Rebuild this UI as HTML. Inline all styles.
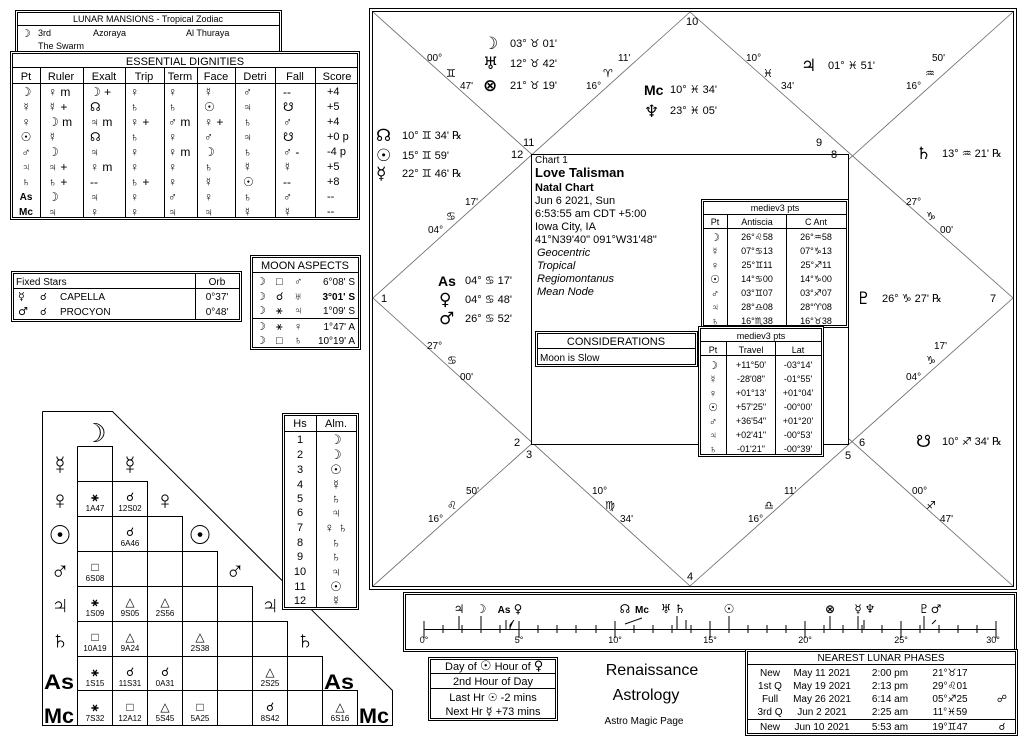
<!DOCTYPE html>
<html><head><meta charset="utf-8"><style>
html,body{margin:0;padding:0;background:#fff;width:1023px;height:748px;overflow:hidden}
svg{display:block;font-size:10px}
text{font-family:"Liberation Sans","DejaVu Sans",sans-serif;fill:#000}
.g{font-family:"DejaVu Sans",sans-serif}
.b{font-weight:bold}
.m{text-anchor:middle}
.i{font-style:italic}
</style></head><body>
<svg width="1023" height="748" viewBox="0 0 1023 748" xmlns="http://www.w3.org/2000/svg">
<g fill="none" stroke="#000" stroke-width="1">
<rect x="369.5" y="8.5" width="647" height="581"/>
<rect x="372.5" y="11.5" width="641" height="575"/>
<g stroke="#666" stroke-width="0.8">
<line x1="373" y1="12" x2="1013" y2="586"/>
<line x1="1013" y1="12" x2="373" y2="586"/>
<polyline points="690,12 1013,298 690,586 373,298 690,12"/>
</g>
<rect x="531.5" y="154.5" width="317" height="290" fill="#fff"/>
<rect x="701.5" y="199.5" width="147" height="128" fill="#fff"/>
<rect x="703.5" y="201.5" width="143" height="124"/>
<line x1="703" y1="214.5" x2="847" y2="214.5"/><line x1="703" y1="228.5" x2="847" y2="228.5"/>
<line x1="727.5" y1="214" x2="727.5" y2="326"/><line x1="786.5" y1="214" x2="786.5" y2="326"/>
<rect x="698.5" y="326.5" width="125" height="130" fill="#fff"/>
<rect x="700.5" y="328.5" width="121" height="126"/>
<line x1="700" y1="341.5" x2="822" y2="341.5"/><line x1="700" y1="355.5" x2="822" y2="355.5"/>
<line x1="726.5" y1="342" x2="726.5" y2="455"/><line x1="775.5" y1="342" x2="775.5" y2="455"/>
<rect x="535.5" y="331.5" width="162" height="35"/>
<rect x="537.5" y="333.5" width="158" height="31"/>
<line x1="537" y1="348.5" x2="696" y2="348.5"/>
<rect x="15.5" y="10.5" width="266" height="44"/>
<rect x="17.5" y="12.5" width="262" height="40"/>
<line x1="17" y1="25.5" x2="280" y2="25.5"/>
<rect x="10.5" y="51.5" width="349" height="168" fill="#fff"/>
<rect x="12.5" y="53.5" width="345" height="164"/>
<line x1="12" y1="67.5" x2="358" y2="67.5"/><line x1="12" y1="83.5" x2="358" y2="83.5"/>
<line x1="40.5" y1="67" x2="40.5" y2="218"/><line x1="83.5" y1="67" x2="83.5" y2="218"/>
<line x1="125.5" y1="67" x2="125.5" y2="218"/><line x1="164.5" y1="67" x2="164.5" y2="218"/>
<line x1="197.5" y1="67" x2="197.5" y2="218"/><line x1="235.5" y1="67" x2="235.5" y2="218"/>
<line x1="275.5" y1="67" x2="275.5" y2="218"/><line x1="315.5" y1="67" x2="315.5" y2="218"/>
<rect x="11.5" y="271.5" width="230" height="50"/>
<rect x="13.5" y="273.5" width="226" height="46"/>
<line x1="13" y1="288.5" x2="240" y2="288.5"/><line x1="195.5" y1="274" x2="195.5" y2="320"/>
<rect x="250.5" y="255.5" width="110" height="94"/>
<rect x="252.5" y="257.5" width="106" height="90"/>
<line x1="252" y1="272.5" x2="359" y2="272.5"/><line x1="252" y1="318.5" x2="359" y2="318.5"/>
<polyline points="42.5,411.5 112.5,411.5 392.5,690.5 392.5,725.5 42.5,725.5 42.5,411.5"/>
<path d="M77.5 446.5H112.5V725.5 M77.5 446.5V725.5 M77.5 481.5H147.5V725.5 M77.5 516.5H182.5V725.5 M77.5 551.5H217.5V725.5 M77.5 586.5H252.5V725.5 M77.5 621.5H287.5V725.5 M77.5 656.5H322.5V725.5 M77.5 690.5H357.5V725.5"/>
<rect x="282.5" y="413.5" width="76" height="196" fill="#fff"/>
<rect x="284.5" y="415.5" width="72" height="192"/>
<line x1="284" y1="431.5" x2="357" y2="431.5"/><line x1="316.5" y1="416" x2="316.5" y2="607"/>
<rect x="403.5" y="592.5" width="613" height="59"/>
<rect x="405.5" y="594.5" width="609" height="55"/>
<line x1="424" y1="629.5" x2="996" y2="629.5"/>
<rect x="428.5" y="657.5" width="129" height="63"/>
<rect x="430.5" y="659.5" width="125" height="59"/>
<line x1="430" y1="673.5" x2="556" y2="673.5"/><line x1="430" y1="688.5" x2="556" y2="688.5"/>
<rect x="745.5" y="649.5" width="272" height="86" fill="#fff"/>
<rect x="747.5" y="651.5" width="268" height="82"/>
<line x1="747" y1="664.5" x2="1016" y2="664.5"/><line x1="747" y1="719.5" x2="1016" y2="719.5"/>
</g>
<g stroke="#000">
<path d="M424 621V638M996 621V638M519 621V638M615 621V638M710 621V638M805 621V638M901 621V638M443 625V633M462 625V633M481 625V633M500 625V633M538 625V633M557 625V633M576 625V633M596 625V633M634 625V633M653 625V633M672 625V633M691 625V633M729 625V633M748 625V633M767 625V633M786 625V633M824 625V633M843 625V633M862 625V633M882 625V633M920 625V633M939 625V633M958 625V633M977 625V633"/>
<path d="M459 616V629M481 616V629M506 620V629M514 620L510 625V629M625 624L642 618M677 616V629M686 620V629M729 616V629M830 616V629M858 616V629M864 620V629M924 616V629M932 624L936 620"/>
</g>
<g font-size="12">
<text x="459" y="613" class="m g b">♃</text><text x="481" y="613" class="m g b">☽</text><text x="504" y="613" class="m b" font-size="10">As</text><text x="518" y="613" class="m g b">♀</text>
<text x="625" y="613" class="m g b">☊</text><text x="642" y="613" class="m b" font-size="10">Mc</text><text x="666" y="613" class="m g b">♅</text><text x="680" y="613" class="m g b">♄</text><text x="729" y="613" class="m g b">☉</text>
<text x="830" y="613" class="m g b">⊗</text><text x="858" y="613" class="m g b">☿</text><text x="870" y="613" class="m g b">♆</text><text x="924" y="613" class="m g b">♇</text><text x="936" y="613" class="m g b">♂</text>
</g>
<g font-size="9">
<text x="424" y="643" class="m">0°</text><text x="519" y="643" class="m">5°</text><text x="615" y="643" class="m">10°</text><text x="710" y="643" class="m">15°</text><text x="805" y="643" class="m">20°</text><text x="901" y="643" class="m">25°</text><text x="993" y="643" class="m">30°</text>
</g>
<g font-size="11">
<text x="686" y="25">10</text><text x="523" y="146">11</text><text x="511" y="158">12</text><text x="816" y="146">9</text><text x="831" y="158">8</text>
<text x="381" y="302">1</text><text x="990" y="302">7</text><text x="514" y="446">2</text><text x="526" y="458">3</text><text x="845" y="459">5</text><text x="859" y="446">6</text><text x="687" y="580">4</text>
</g>
<g font-size="10">
<text x="427" y="61">00°</text><text x="446" y="77" class="g" font-size="11">♊</text><text x="460" y="89">47'</text>
<text x="618" y="61">11'</text><text x="603" y="77" class="g" font-size="11">♈</text><text x="586" y="89">16°</text>
<text x="746" y="61">10°</text><text x="763" y="77" class="g" font-size="11">♓</text><text x="781" y="89">34'</text>
<text x="932" y="61">50'</text><text x="925" y="77" class="g" font-size="11">♒</text><text x="906" y="89">16°</text>
<text x="465" y="205">17'</text><text x="446" y="220" class="g" font-size="11">♋</text><text x="428" y="233">04°</text>
<text x="906" y="205">27°</text><text x="926" y="220" class="g" font-size="11">♑</text><text x="940" y="233">00'</text>
<text x="427" y="349">27°</text><text x="447" y="364" class="g" font-size="11">♋</text><text x="460" y="380">00'</text>
<text x="934" y="349">17'</text><text x="926" y="364" class="g" font-size="11">♑</text><text x="906" y="380">04°</text>
<text x="466" y="494">50'</text><text x="447" y="509" class="g" font-size="11">♌</text><text x="428" y="522">16°</text>
<text x="592" y="494">10°</text><text x="605" y="509" class="g" font-size="11">♍</text><text x="620" y="522">34'</text>
<text x="784" y="494">11'</text><text x="764" y="509" class="g" font-size="11">♎</text><text x="748" y="522">16°</text>
<text x="912" y="494">00°</text><text x="926" y="509" class="g" font-size="11">♐</text><text x="940" y="522">47'</text>
</g>
<g font-size="11">
<text x="483" y="49" font-size="17" class="g b">☽</text><text x="510" y="47">03° ♉ 01'</text>
<text x="483" y="69" font-size="17" class="g b">♅</text><text x="510" y="67">12° ♉ 42'</text>
<text x="483" y="91" font-size="17" class="g b">⊗</text><text x="510" y="89">21° ♉ 19'</text>
<text x="644" y="95" font-size="14" class="b">Mc</text><text x="670" y="93">10° ♓ 34'</text>
<text x="644" y="117" font-size="17" class="g b">♆</text><text x="670" y="114">23° ♓ 05'</text>
<text x="801" y="71" font-size="17" class="g b">♃</text><text x="828" y="69">01° ♓ 51'</text>
<text x="376" y="141" font-size="17" class="g b">☊</text><text x="402" y="139">10° ♊ 34' ℞</text>
<text x="376" y="161" font-size="17" class="g b">☉</text><text x="402" y="159">15° ♊ 59'</text>
<text x="376" y="179" font-size="17" class="g b">☿</text><text x="402" y="177">22° ♊ 46' ℞</text>
<text x="916" y="159" font-size="17" class="g b">♄</text><text x="942" y="157">13° ♒ 21' ℞</text>
<text x="438" y="286" font-size="14" class="b">As</text><text x="465" y="284">04° ♋ 17'</text>
<text x="439" y="305" font-size="17" class="g b">♀</text><text x="465" y="303">04° ♋ 48'</text>
<text x="439" y="324" font-size="17" class="g b">♂</text><text x="465" y="322">26° ♋ 52'</text>
<text x="856" y="304" font-size="17" class="g b">♇</text><text x="882" y="302">26° ♑ 27' ℞</text>
<text x="916" y="447" font-size="17" class="g b">☋</text><text x="942" y="445">10° ♐ 34' ℞</text>
</g>
<g font-size="11">
<text x="535" y="163" font-size="10">Chart 1</text>
<text x="535" y="177" font-size="13" class="b">Love Talisman</text>
<text x="535" y="191" font-size="11" class="b">Natal Chart</text>
<text x="535" y="204">Jun 6 2021, Sun</text>
<text x="535" y="217">6:53:55 am  CDT +5:00</text>
<text x="535" y="230">Iowa City, IA</text>
<text x="535" y="243">41°N39'40" 091°W31'48"</text>
<text x="537" y="256" class="i">Geocentric</text>
<text x="537" y="269" class="i">Tropical</text>
<text x="537" y="282" class="i">Regiomontanus</text>
<text x="537" y="295" class="i">Mean Node</text>
<text x="616" y="345" class="m" font-size="11">CONSIDERATIONS</text>
<text x="540" y="361" font-size="10">Moon is Slow</text>
</g>
<g font-size="9">
<text x="775" y="211" class="m">mediev3 pts</text>
<text x="715" y="225" class="m">Pt</text><text x="757" y="225" class="m">Antiscia</text><text x="816" y="225" class="m">C Ant</text>
<g class="g b" font-size="11"><text x="715" y="241" class="m">☽</text><text x="715" y="255" class="m">☿</text><text x="715" y="269" class="m">♀</text><text x="715" y="283" class="m">☉</text><text x="715" y="297" class="m">♂</text><text x="715" y="311" class="m">♃</text><text x="715" y="325" class="m">♄</text></g>
<text x="757" y="240" class="m">26°♌58</text><text x="757" y="254" class="m">07°♋13</text><text x="757" y="268" class="m">25°♊11</text><text x="757" y="282" class="m">14°♋00</text><text x="757" y="296" class="m">03°♊07</text><text x="757" y="310" class="m">28°♎08</text><text x="757" y="324" class="m">16°♏38</text>
<text x="816" y="240" class="m">26°♒58</text><text x="816" y="254" class="m">07°♑13</text><text x="816" y="268" class="m">25°♐11</text><text x="816" y="282" class="m">14°♑00</text><text x="816" y="296" class="m">03°♐07</text><text x="816" y="310" class="m">28°♈08</text><text x="816" y="324" class="m">16°♉38</text>
<text x="761" y="339" class="m">mediev3 pts</text>
<text x="713" y="353" class="m">Pt</text><text x="751" y="353" class="m">Travel</text><text x="798" y="353" class="m">Lat</text>
<g class="g b" font-size="11"><text x="713" y="369" class="m">☽</text><text x="713" y="383" class="m">☿</text><text x="713" y="397" class="m">♀</text><text x="713" y="411" class="m">☉</text><text x="713" y="425" class="m">♂</text><text x="713" y="439" class="m">♃</text><text x="713" y="453" class="m">♄</text></g>
<text x="751" y="368" class="m">+11°50'</text><text x="751" y="382" class="m">-28'08"</text><text x="751" y="396" class="m">+01°13'</text><text x="751" y="410" class="m">+57'25"</text><text x="751" y="424" class="m">+36'54"</text><text x="751" y="438" class="m">+02'41"</text><text x="751" y="452" class="m">-01'21"</text>
<text x="798" y="368" class="m">-03°14'</text><text x="798" y="382" class="m">-01°55'</text><text x="798" y="396" class="m">+01°04'</text><text x="798" y="410" class="m">-00°00'</text><text x="798" y="424" class="m">+01°20'</text><text x="798" y="438" class="m">-00°53'</text><text x="798" y="452" class="m">-00°39'</text>
</g>
<g font-size="9">
<text x="148" y="22" class="m">LUNAR MANSIONS - Tropical Zodiac</text>
<text x="21" y="37" class="g b" font-size="11">☽</text><text x="38" y="36">3rd</text><text x="93" y="36">Azoraya</text><text x="186" y="36">Al Thuraya</text>
<text x="38" y="49">The Swarm</text>
</g>
<g font-size="11">
<text x="185" y="65" class="m" font-size="11">ESSENTIAL DIGNITIES</text>
<text x="26" y="80" class="m">Pt</text><text x="61" y="80" class="m">Ruler</text><text x="104" y="80" class="m">Exalt</text><text x="144" y="80" class="m">Trip</text><text x="180" y="80" class="m">Term</text><text x="216" y="80" class="m">Face</text><text x="255" y="80" class="m">Detri</text><text x="295" y="80" class="m">Fall</text><text x="337" y="80" class="m">Score</text>
</g>
<g font-size="12" class="g">
<g class="b"><text x="26" y="96" class="m">☽</text><text x="26" y="111" class="m">☿</text><text x="26" y="126" class="m">♀</text><text x="26" y="141" class="m">☉</text><text x="26" y="156" class="m">♂</text><text x="26" y="171" class="m">♃</text><text x="26" y="186" class="m">♄</text><text x="26" y="200" class="m" font-size="10" font-family="Liberation Sans">As</text><text x="26" y="215" class="m" font-size="10" font-family="Liberation Sans">Mc</text></g>
<text x="48" y="96">♀ m</text><text x="48" y="111">☿ +</text><text x="48" y="126">☽ m</text><text x="48" y="141">☿</text><text x="48" y="156">☽</text><text x="48" y="171">♃ +</text><text x="48" y="186">♄ +</text><text x="48" y="201">☽</text><text x="48" y="216">♃</text>
<text x="90" y="96">☽ +</text><text x="90" y="111">☊</text><text x="90" y="126">♃ m</text><text x="90" y="141">☊</text><text x="90" y="156">♃</text><text x="90" y="171">♀ m</text><text x="90" y="186">--</text><text x="90" y="201">♃</text><text x="90" y="216">♀</text>
<text x="130" y="96">♀</text><text x="130" y="111">♄</text><text x="130" y="126">♀ +</text><text x="130" y="141">♄</text><text x="130" y="156">♀</text><text x="130" y="171">♀</text><text x="130" y="186">♄ +</text><text x="130" y="201">♀</text><text x="130" y="216">♀</text>
<text x="168" y="96">♀</text><text x="168" y="111">♄</text><text x="168" y="126">♂ m</text><text x="168" y="141">♀</text><text x="168" y="156">♀ m</text><text x="168" y="171">♀</text><text x="168" y="186">♀</text><text x="168" y="201">♂</text><text x="168" y="216">♃</text>
<text x="204" y="96">☿</text><text x="204" y="111">☉</text><text x="204" y="126">♀ +</text><text x="204" y="141">♂</text><text x="204" y="156">☽</text><text x="204" y="171">♄</text><text x="204" y="186">☿</text><text x="204" y="201">♀</text><text x="204" y="216">♃</text>
<text x="243" y="96">♂</text><text x="243" y="111">♃</text><text x="243" y="126">♄</text><text x="243" y="141">♃</text><text x="243" y="156">♄</text><text x="243" y="171">☿</text><text x="243" y="186">☉</text><text x="243" y="201">♄</text><text x="243" y="216">☿</text>
<text x="283" y="96">--</text><text x="283" y="111">☋</text><text x="283" y="126">♂</text><text x="283" y="141">☋</text><text x="283" y="156">♂ -</text><text x="283" y="171">☿</text><text x="283" y="186">--</text><text x="283" y="201">♂</text><text x="283" y="216">☿</text>
</g>
<g font-size="11">
<text x="327" y="95">+4</text><text x="327" y="110">+5</text><text x="327" y="125">+4</text><text x="327" y="140">+0 p</text><text x="327" y="155">-4 p</text><text x="327" y="170">+5</text><text x="327" y="185">+8</text><text x="327" y="200">--</text><text x="327" y="215">--</text>
</g>
<g font-size="10">
<text x="16" y="285">Fixed Stars</text><text x="217" y="285" class="m">Orb</text>
<text x="18" y="300" class="g" font-size="11">☿</text><text x="40" y="300" class="g">☌</text><text x="60" y="300">CAPELLA</text><text x="217" y="300" class="m">0°37'</text>
<text x="18" y="315" class="g" font-size="11">♂</text><text x="40" y="315" class="g">☌</text><text x="60" y="315">PROCYON</text><text x="217" y="315" class="m">0°48'</text>
</g>
<g font-size="10">
<text x="305" y="269" class="m" font-size="11">MOON ASPECTS</text>
<g class="g" font-size="11"><text x="256" y="285">☽</text><text x="276" y="285">□</text><text x="294" y="285">♂</text>
<text x="256" y="300">☽</text><text x="276" y="300">☌</text><text x="294" y="300">♅</text>
<text x="256" y="314">☽</text><text x="276" y="314">⚹</text><text x="294" y="314">♃</text>
<text x="256" y="330">☽</text><text x="276" y="330">⚹</text><text x="294" y="330">♀</text>
<text x="256" y="344">☽</text><text x="276" y="344">□</text><text x="294" y="344">♄</text></g>
<text x="355" y="285" text-anchor="end">6°08' S</text><text x="355" y="300" text-anchor="end" class="b">3°01' S</text><text x="355" y="314" text-anchor="end">1°09' S</text><text x="355" y="330" text-anchor="end">1°47' A</text><text x="355" y="344" text-anchor="end">10°19' A</text>
</g>
<g font-size="26" class="g b">
<text x="95" y="442" class="m">☽</text>
<text x="60" y="474" class="m">☿</text><text x="130" y="474" class="m">☿</text>
<text x="60" y="509" class="m">♀</text><text x="165" y="509" class="m">♀</text>
<text x="60" y="544" class="m">☉</text><text x="200" y="544" class="m">☉</text>
<text x="60" y="579" class="m">♂</text><text x="235" y="579" class="m">♂</text>
<text x="60" y="614" class="m">♃</text><text x="270" y="614" class="m">♃</text>
<text x="60" y="649" class="m">♄</text><text x="305" y="649" class="m">♄</text>
</g>
<g font-size="21" class="b">
<text x="59" y="689" class="m" textLength="30" lengthAdjust="spacingAndGlyphs">As</text><text x="339" y="689" class="m" textLength="30" lengthAdjust="spacingAndGlyphs">As</text>
<text x="59" y="723" class="m" textLength="30" lengthAdjust="spacingAndGlyphs">Mc</text><text x="374" y="723" class="m" textLength="30" lengthAdjust="spacingAndGlyphs">Mc</text>
</g>
<g font-size="12" class="g b">
<text x="95" y="501" class="m">⚹</text><text x="130" y="501" class="m">☌</text>
<text x="130" y="536" class="m">☌</text>
<text x="95" y="571" class="m">□</text>
<text x="95" y="606" class="m">⚹</text><text x="130" y="606" class="m">△</text><text x="165" y="606" class="m">△</text>
<text x="95" y="641" class="m">□</text><text x="130" y="641" class="m">△</text><text x="200" y="641" class="m">△</text>
<text x="95" y="676" class="m">⚹</text><text x="130" y="676" class="m">☌</text><text x="165" y="676" class="m">☌</text><text x="270" y="676" class="m">△</text>
<text x="95" y="711" class="m">⚹</text><text x="130" y="711" class="m">□</text><text x="165" y="711" class="m">△</text><text x="200" y="711" class="m">□</text><text x="270" y="711" class="m">☌</text><text x="340" y="711" class="m">△</text>
</g>
<g font-size="8">
<text x="95" y="511" class="m">1A47</text><text x="130" y="511" class="m">12S02</text>
<text x="130" y="546" class="m">6A46</text>
<text x="95" y="581" class="m">6S08</text>
<text x="95" y="616" class="m">1S09</text><text x="130" y="616" class="m">9S05</text><text x="165" y="616" class="m">2S56</text>
<text x="95" y="651" class="m">10A19</text><text x="130" y="651" class="m">9A24</text><text x="200" y="651" class="m">2S38</text>
<text x="95" y="686" class="m">1S15</text><text x="130" y="686" class="m">11S31</text><text x="165" y="686" class="m">0A31</text><text x="270" y="686" class="m">2S25</text>
<text x="95" y="721" class="m">7S32</text><text x="130" y="721" class="m">12A12</text><text x="165" y="721" class="m">5S45</text><text x="200" y="721" class="m">5A25</text><text x="270" y="721" class="m">8S42</text><text x="340" y="721" class="m">6S16</text>
</g>
<g font-size="11">
<text x="300" y="427" class="m">Hs</text><text x="336" y="427" class="m">Alm.</text>
<text x="300" y="443" class="m">1</text><text x="300" y="458" class="m">2</text><text x="300" y="473" class="m">3</text><text x="300" y="488" class="m">4</text><text x="300" y="502" class="m">5</text><text x="300" y="516" class="m">6</text><text x="300" y="531" class="m">7</text><text x="300" y="546" class="m">8</text><text x="300" y="560" class="m">9</text><text x="300" y="575" class="m">10</text><text x="300" y="590" class="m">11</text><text x="300" y="604" class="m">12</text>
<g class="g" font-size="13"><text x="336" y="444" class="m">☽</text><text x="336" y="459" class="m">☽</text><text x="336" y="474" class="m">☉</text><text x="336" y="489" class="m">☿</text><text x="336" y="503" class="m">♄</text><text x="336" y="517" class="m">♃</text><text x="336" y="532" class="m">♀ ♄</text><text x="336" y="547" class="m">♄</text><text x="336" y="561" class="m">♄</text><text x="336" y="576" class="m">♃</text><text x="336" y="591" class="m">☉</text><text x="336" y="605" class="m">☿</text></g>
</g>
<g font-size="11">
<text x="445" y="670">Day of <tspan class="g b" font-size="13">☉</tspan>   Hour of <tspan class="g b" font-size="13">♀</tspan></text>
<text x="493" y="685" class="m">2nd Hour of Day</text>
<text x="493" y="701" class="m">Last Hr <tspan class="g">☉</tspan>  -2 mins</text>
<text x="493" y="715" class="m">Next Hr <tspan class="g">☿</tspan>  +73 mins</text>
</g>
<text x="652" y="675" class="m" font-size="16" fill="#333">Renaissance</text>
<text x="646" y="700" class="m" font-size="16" fill="#333">Astrology</text>
<text x="644" y="724" class="m" font-size="10">Astro Magic Page</text>
<g font-size="10">
<text x="881" y="661" class="m">NEAREST LUNAR PHASES</text>
<text x="770" y="676" class="m">New</text><text x="822" y="676" class="m">May 11 2021</text><text x="890" y="676" class="m">2:00 pm</text><text x="950" y="676" class="m">21°♉17</text>
<text x="770" y="689" class="m">1st Q</text><text x="822" y="689" class="m">May 19 2021</text><text x="890" y="689" class="m">2:13 pm</text><text x="950" y="689" class="m">29°♌01</text>
<text x="770" y="702" class="m">Full</text><text x="822" y="702" class="m">May 26 2021</text><text x="890" y="702" class="m">6:14 am</text><text x="950" y="702" class="m">05°♐25</text><text x="1002" y="702" class="m">☍</text>
<text x="770" y="715" class="m">3rd Q</text><text x="822" y="715" class="m">Jun 2 2021</text><text x="890" y="715" class="m">2:25 am</text><text x="950" y="715" class="m">11°♓59</text>
<text x="770" y="730" class="m">New</text><text x="822" y="730" class="m">Jun 10 2021</text><text x="890" y="730" class="m">5:53 am</text><text x="950" y="730" class="m">19°♊47</text><text x="1002" y="730" class="m">☌</text>
</g>
</svg>
</body></html>
